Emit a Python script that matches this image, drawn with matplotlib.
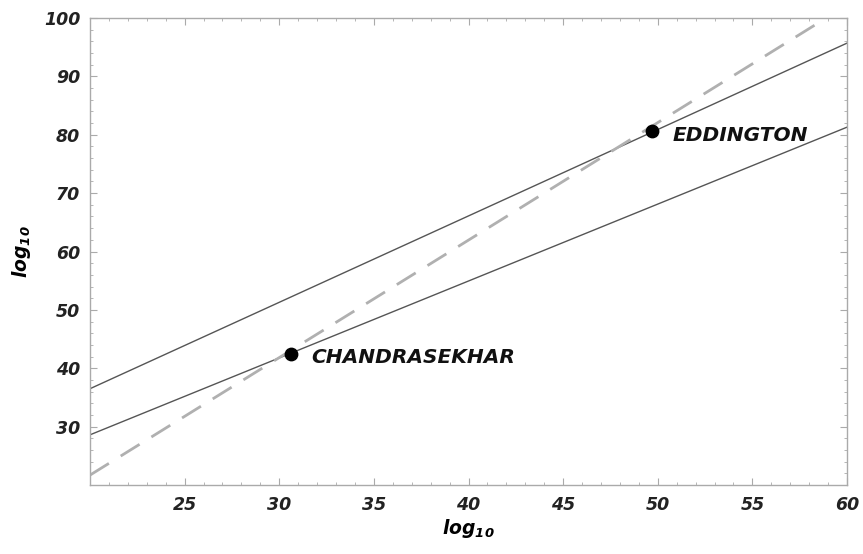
import matplotlib
matplotlib.use("Agg")
import matplotlib.pyplot as plt
from matplotlib.ticker import MultipleLocator

# Data
line_x = [20, 60]
upper_line_y = [36.5, 95.7]
lower_line_y = [28.6, 81.3]
dashed_x = [20, 58.9]
dashed_y = [21.7, 100.0]
points_x = [30.6, 49.7]
points_y = [42.5, 80.6]
point_labels = ["CHANDRASEKHAR", "EDDINGTON"]
xticks = [25, 30, 35, 40, 45, 50, 55, 60]
yticks = [30, 40, 50, 60, 70, 80, 90, 100]

plt.rcParams['font.family'] = ['DejaVu Sans']
plt.rcParams['mathtext.default'] = 'regular'

fig = plt.figure(figsize=(8.63, 5.54), dpi=100)
ax = fig.add_axes([0.1043, 0.1245, 0.8772, 0.843])

ax.plot(line_x, upper_line_y, color='#555555', lw=1.0)
ax.plot(line_x, lower_line_y, color='#555555', lw=1.0)
ax.plot(dashed_x, dashed_y, color='#b0b0b0', lw=2.0, dashes=(8, 5))
ax.scatter(points_x, points_y, s=80, color='black', zorder=5)
for px, py, lab in zip(points_x, points_y, point_labels):
    ax.annotate(lab, (px, py), xytext=(15, -3), textcoords='offset points',
                fontsize=14.5, fontweight='bold', fontstyle='italic', va='center',
                color='#111111')

ax.set_xlim(20, 60)
ax.set_ylim(20, 100)
ax.set_xticks(xticks)
ax.set_yticks(yticks)
ax.xaxis.set_minor_locator(MultipleLocator(1))
ax.yaxis.set_minor_locator(MultipleLocator(2))
ax.tick_params(which='both', direction='in', color='#aaaaaa', top=True, right=True)
ax.tick_params(which='major', length=5, labelsize=12.5)
ax.tick_params(axis='x', which='major', pad=8)
ax.tick_params(axis='y', which='major', pad=7)
ax.tick_params(which='minor', length=2.5)
for lbl in ax.get_xticklabels() + ax.get_yticklabels():
    lbl.set_fontweight('bold')
    lbl.set_fontstyle('italic')
    lbl.set_color('#222222')
for s in ax.spines.values():
    s.set_color('#aaaaaa')
    s.set_linewidth(1.0)

ax.set_xlabel('log$_{10}$', fontsize=13.5, fontweight='bold', fontstyle='italic', labelpad=2)
ax.set_ylabel('log$_{10}$', fontsize=13.5, fontweight='bold', fontstyle='italic', labelpad=8)

fig.savefig('out.png', dpi=100, facecolor='white')
